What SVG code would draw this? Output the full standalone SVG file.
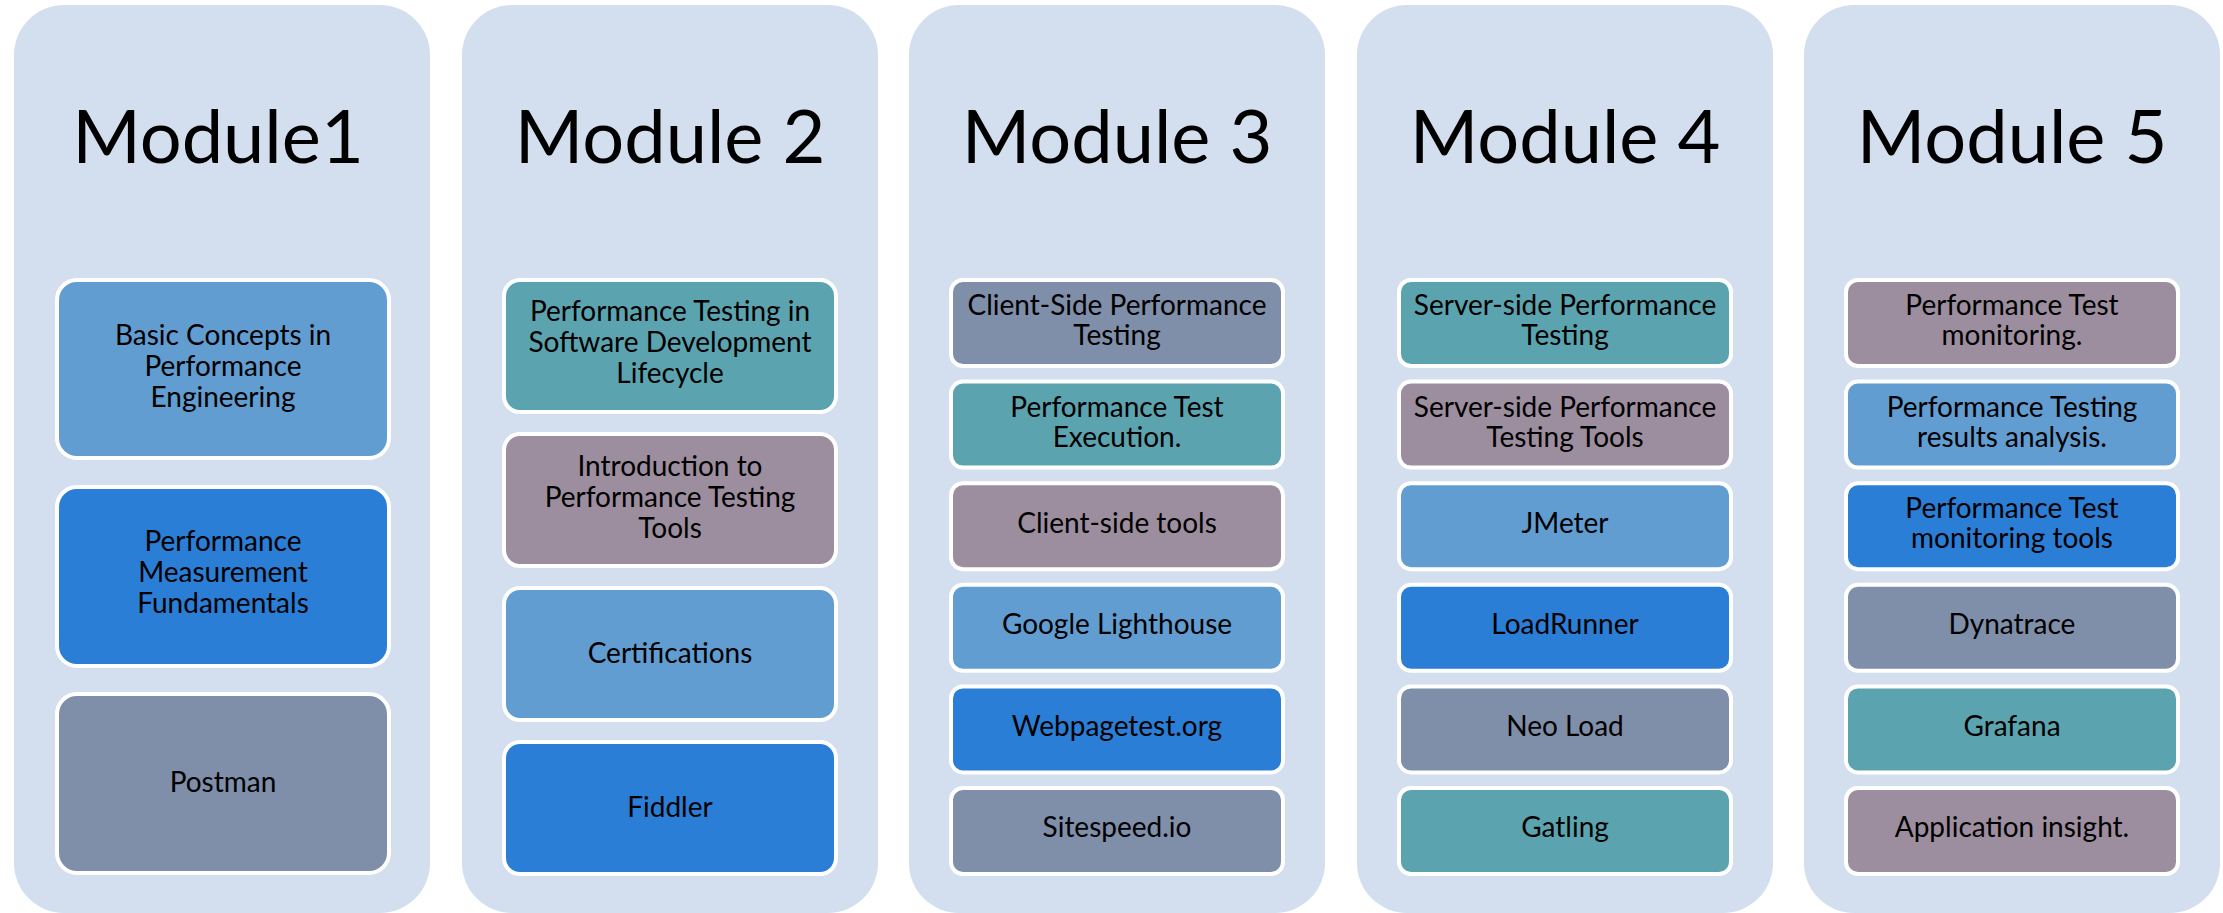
<svg xmlns="http://www.w3.org/2000/svg" width="2223" height="913" viewBox="0 0 2223 913">
<style>
.col{fill:#D3DFEE}
.box{stroke:#FFFFFF;stroke-width:4}
.lb{fill:#619DD1}
.bl{fill:#2A7ED6}
.sl{fill:#7F8EA9}
.te{fill:#5BA4AF}
.ma{fill:#9D8E9F}
.h{font-family:Lato,"Open Sans","Liberation Sans",sans-serif;font-size:74px;fill:#000;text-anchor:middle}
.t{font-family:Lato,"Open Sans","Liberation Sans",sans-serif;font-size:28px;fill:#000;text-anchor:middle}
</style>
<rect width="2223" height="913" fill="#FFFFFF"/>
<g id="module1">
<rect class="col" x="14" y="5" width="416" height="908" rx="50"/>
<text class="h" x="218" y="163">Module1</text>
<g id="m1b1"><rect class="box lb" x="57" y="280" width="332" height="178" rx="20"/><text class="t" x="223" y="345">Basic Concepts in</text><text class="t" x="223" y="376">Performance</text><text class="t" x="223" y="407">Engineering</text></g>
<g id="m1b2"><rect class="box bl" x="57" y="487" width="332" height="179" rx="20"/><text class="t" x="223" y="551">Performance</text><text class="t" x="223" y="582">Measurement</text><text class="t" x="223" y="613">Fundamentals</text></g>
<g id="m1b3"><rect class="box sl" x="57" y="694" width="332" height="179" rx="20"/><text class="t" x="223" y="792">Postman</text></g>
</g>
<g id="module2">
<rect class="col" x="462" y="5" width="416" height="908" rx="50"/>
<text class="h" x="670" y="163">Module 2</text>
<g id="m2b1"><rect class="box te" x="504" y="280" width="332" height="132" rx="16"/><text class="t" x="670" y="321">Performance Testing in</text><text class="t" x="670" y="352">Software Development</text><text class="t" x="670" y="383">Lifecycle</text></g>
<g id="m2b2"><rect class="box ma" x="504" y="434" width="332" height="132" rx="16"/><text class="t" x="670" y="476">Introduction to</text><text class="t" x="670" y="507">Performance Testing</text><text class="t" x="670" y="538">Tools</text></g>
<g id="m2b3"><rect class="box lb" x="504" y="588" width="332" height="132" rx="16"/><text class="t" x="670" y="663">Certifications</text></g>
<g id="m2b4"><rect class="box bl" x="504" y="742" width="332" height="132" rx="16"/><text class="t" x="670" y="817">Fiddler</text></g>
</g>
<g id="module3">
<rect class="col" x="909" y="5" width="416" height="908" rx="50"/>
<text class="h" x="1117" y="163">Module 3</text>
<g id="m3b1"><rect class="box sl" x="951" y="280" width="332" height="86" rx="12"/><text class="t" x="1117" y="315">Client-Side Performance</text><text class="t" x="1117" y="345">Testing</text></g>
<g id="m3b2"><rect class="box te" x="951" y="381.6" width="332" height="86" rx="12"/><text class="t" x="1117" y="417">Performance Test</text><text class="t" x="1117" y="447">Execution.</text></g>
<g id="m3b3"><rect class="box ma" x="951" y="483.2" width="332" height="86" rx="12"/><text class="t" x="1117" y="533">Client-side tools</text></g>
<g id="m3b4"><rect class="box lb" x="951" y="584.8" width="332" height="86" rx="12"/><text class="t" x="1117" y="634">Google Lighthouse</text></g>
<g id="m3b5"><rect class="box bl" x="951" y="686.4" width="332" height="86" rx="12"/><text class="t" x="1117" y="736">Webpagetest.org</text></g>
<g id="m3b6"><rect class="box sl" x="951" y="788" width="332" height="86" rx="12"/><text class="t" x="1117" y="837">Sitespeed.io</text></g>
</g>
<g id="module4">
<rect class="col" x="1357" y="5" width="416" height="908" rx="50"/>
<text class="h" x="1565" y="163">Module 4</text>
<g id="m4b1"><rect class="box te" x="1399" y="280" width="332" height="86" rx="12"/><text class="t" x="1565" y="315">Server-side Performance</text><text class="t" x="1565" y="345">Testing</text></g>
<g id="m4b2"><rect class="box ma" x="1399" y="381.6" width="332" height="86" rx="12"/><text class="t" x="1565" y="417">Server-side Performance</text><text class="t" x="1565" y="447">Testing Tools</text></g>
<g id="m4b3"><rect class="box lb" x="1399" y="483.2" width="332" height="86" rx="12"/><text class="t" x="1565" y="533">JMeter</text></g>
<g id="m4b4"><rect class="box bl" x="1399" y="584.8" width="332" height="86" rx="12"/><text class="t" x="1565" y="634">LoadRunner</text></g>
<g id="m4b5"><rect class="box sl" x="1399" y="686.4" width="332" height="86" rx="12"/><text class="t" x="1565" y="736">Neo Load</text></g>
<g id="m4b6"><rect class="box te" x="1399" y="788" width="332" height="86" rx="12"/><text class="t" x="1565" y="837">Gatling</text></g>
</g>
<g id="module5">
<rect class="col" x="1804" y="5" width="416" height="908" rx="50"/>
<text class="h" x="2012" y="163">Module 5</text>
<g id="m5b1"><rect class="box ma" x="1846" y="280" width="332" height="86" rx="12"/><text class="t" x="2012" y="315">Performance Test</text><text class="t" x="2012" y="345">monitoring.</text></g>
<g id="m5b2"><rect class="box lb" x="1846" y="381.6" width="332" height="86" rx="12"/><text class="t" x="2012" y="417">Performance Testing</text><text class="t" x="2012" y="447">results analysis.</text></g>
<g id="m5b3"><rect class="box bl" x="1846" y="483.2" width="332" height="86" rx="12"/><text class="t" x="2012" y="518">Performance Test</text><text class="t" x="2012" y="548">monitoring tools</text></g>
<g id="m5b4"><rect class="box sl" x="1846" y="584.8" width="332" height="86" rx="12"/><text class="t" x="2012" y="634">Dynatrace</text></g>
<g id="m5b5"><rect class="box te" x="1846" y="686.4" width="332" height="86" rx="12"/><text class="t" x="2012" y="736">Grafana</text></g>
<g id="m5b6"><rect class="box ma" x="1846" y="788" width="332" height="86" rx="12"/><text class="t" x="2012" y="837">Application insight.</text></g>
</g>
<g id="connectors"/>
</svg>
